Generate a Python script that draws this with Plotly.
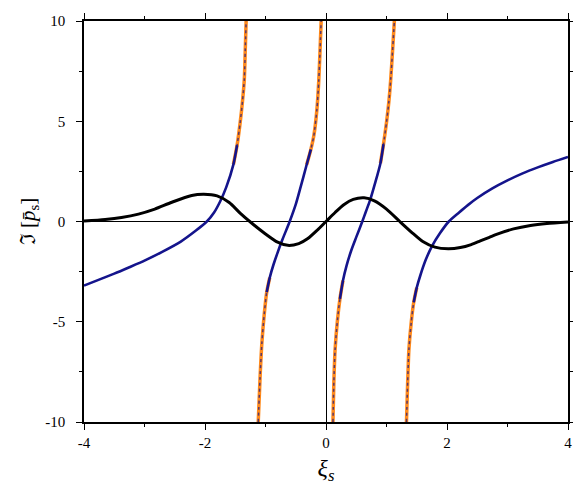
import plotly.graph_objects as go
import numpy as np

# black curve
bx = [-4, -3.65, -3.38, -3.1, -2.83, -2.55, -2.22, -2.02, -1.8, -1.6, -1.42, -1.22, -1.0, -0.8, -0.63, -0.45, -0.3,
      -0.15, 0, 0.15, 0.3, 0.45, 0.63, 0.8, 1.0, 1.22, 1.42, 1.6, 1.8, 2.02, 2.22, 2.4, 2.55, 2.7, 2.83, 3.1, 3.38,
      3.65, 4]
by = [0.02, 0.1, 0.2, 0.37, 0.62, 0.96, 1.3, 1.36, 1.28, 0.95, 0.42, -0.1, -0.62, -1.03, -1.19, -1.1, -0.85,
      -0.45, 0, 0.45, 0.85, 1.1, 1.18, 1.03, 0.62, 0.0, -0.55, -1.0, -1.28, -1.36, -1.3, -1.15, -0.97, -0.79, -0.63,
      -0.37, -0.2, -0.1, -0.02]

# blue / orange branches
ax_ = [-4, -3.75, -3.5, -3.25, -3, -2.7, -2.4, -2.15, -1.97, -1.85, -1.75, -1.65, -1.53, -1.47, -1.42, -1.38,
       -1.35, -1.335, -1.32]
ay_ = [-3.2, -2.9, -2.6, -2.28, -1.95, -1.5, -1.0, -0.45, 0.0, 0.45, 1.0, 1.7, 2.85, 3.8, 4.9, 6.0,
       7.1, 8.5, 10]
bx_ = [-1.12, -1.09, -1.06, -1.02, -0.98, -0.93, -0.87, -0.8, -0.72, -0.6, -0.5, -0.42, -0.32, -0.25, -0.2, -0.15,
       -0.12, -0.1, -0.08]
by_ = [-10, -7.8, -6.07, -4.6, -3.53, -2.8, -2.17, -1.55, -0.9, 0.0, 0.85, 1.71, 2.83, 3.6, 4.3, 5.6,
       7.0, 8.4, 10]
cx_ = [0.115, 0.13, 0.15, 0.19, 0.23, 0.28, 0.34, 0.42, 0.5, 0.6, 0.66, 0.73, 0.81, 0.9, 0.95, 1.0, 1.04, 1.07,
       1.1, 1.13]
cy_ = [-10, -8.0, -6.4, -4.9, -3.86, -2.95, -2.2, -1.42, -0.78, 0.0, 0.5, 1.08, 1.9, 2.91, 3.85, 4.94, 6.0, 7.1,
       8.5, 10]
dx_ = [1.33, 1.35, 1.37, 1.41, 1.45, 1.5, 1.56, 1.65, 1.75, 1.88, 2.03, 2.2, 2.35, 2.5, 2.75, 3.0, 3.25, 3.5,
       3.75, 4]
dy_ = [-10, -8.0, -6.4, -5.0, -4.03, -3.3, -2.68, -1.9, -1.24, -0.6, 0.0, 0.45, 0.83, 1.17, 1.65, 2.05, 2.4, 2.7,
       2.97, 3.22]

x_ticks = [-4, -2, 0, 2, 4]
y_ticks = [-10, -5, 0, 5, 10]

BLUE = "#14148c"
ORANGE = "#ff8a1c"
FONT = "Liberation Serif, Times New Roman, serif"

fig = go.Figure()

branches = [(ax_, ay_), (bx_, by_), (cx_, cy_), (dx_, dy_)]
for xs, ys in branches:
    xs = np.array(xs); ys = np.array(ys)
    steep = np.abs(ys) >= 3.5
    idx = np.where(steep)[0]
    runs = np.split(idx, np.where(np.diff(idx) != 1)[0] + 1) if len(idx) else []
    for r in runs:
        lo = max(r[0] - 1, 0); hi = min(r[-1] + 1, len(xs) - 1)
        sl = slice(lo, hi + 1)
        fig.add_trace(go.Scatter(x=xs[sl], y=ys[sl], mode="lines",
                                 line=dict(color=ORANGE, width=3.5, shape="spline", smoothing=0.7),
                                 showlegend=False, hoverinfo="skip"))
        fig.add_trace(go.Scatter(x=xs[sl], y=ys[sl], mode="lines",
                                 line=dict(color=BLUE, width=1.5, dash="dot", shape="spline", smoothing=0.7),
                                 opacity=0.7, showlegend=False, hoverinfo="skip"))
    flat = np.where(~steep)[0]
    lo = max(flat[0] - 1, 0); hi = min(flat[-1] + 1, len(xs) - 1)
    sl = slice(lo, hi + 1)
    fig.add_trace(go.Scatter(x=xs[sl], y=ys[sl], mode="lines",
                             line=dict(color=BLUE, width=2.6, shape="spline", smoothing=0.7),
                             showlegend=False, hoverinfo="skip"))

fig.add_trace(go.Scatter(x=bx, y=by, mode="lines",
                         line=dict(color="black", width=3, shape="spline", smoothing=0.7),
                         showlegend=False, hoverinfo="skip"))

axis_common = dict(
    showgrid=False, showline=True, linecolor="black", linewidth=1.5,
    mirror="ticks", ticks="outside", tickcolor="black", tickwidth=1.2, ticklen=6,
    zeroline=True, zerolinecolor="black", zerolinewidth=1, automargin=False,
    tickfont=dict(family=FONT, size=15, color="black"),
)

# page body has an 8px margin, so the figure is sized/offset accordingly
fig.update_layout(
    width=573, height=477,
    margin=dict(l=76, r=13, t=13, b=63),
    paper_bgcolor="white", plot_bgcolor="white",
    xaxis=dict(range=[-4, 4], tickvals=x_ticks, ticktext=[str(v) for v in x_ticks],
               minor=dict(dtick=1, ticks="outside", ticklen=3, tickcolor="black", showgrid=False),
               title=dict(text="<i>ξ<sub>s</sub></i>", font=dict(family=FONT, size=24, color="black"), standoff=10),
               **axis_common),
    yaxis=dict(range=[-10, 10], tickvals=y_ticks, ticktext=[str(v) for v in y_ticks],
               minor=dict(dtick=2.5, ticks="outside", ticklen=3, tickcolor="black", showgrid=False),
               ticklabelstandoff=8,
               title=dict(text="<span style=\"font-family:'DejaVu Serif'\">ℑ</span> [<i>p̄</i><sub>s</sub>]",
                          font=dict(family=FONT, size=21, color="black"), standoff=4),
               **axis_common),
)

fig.write_html("out.html")
